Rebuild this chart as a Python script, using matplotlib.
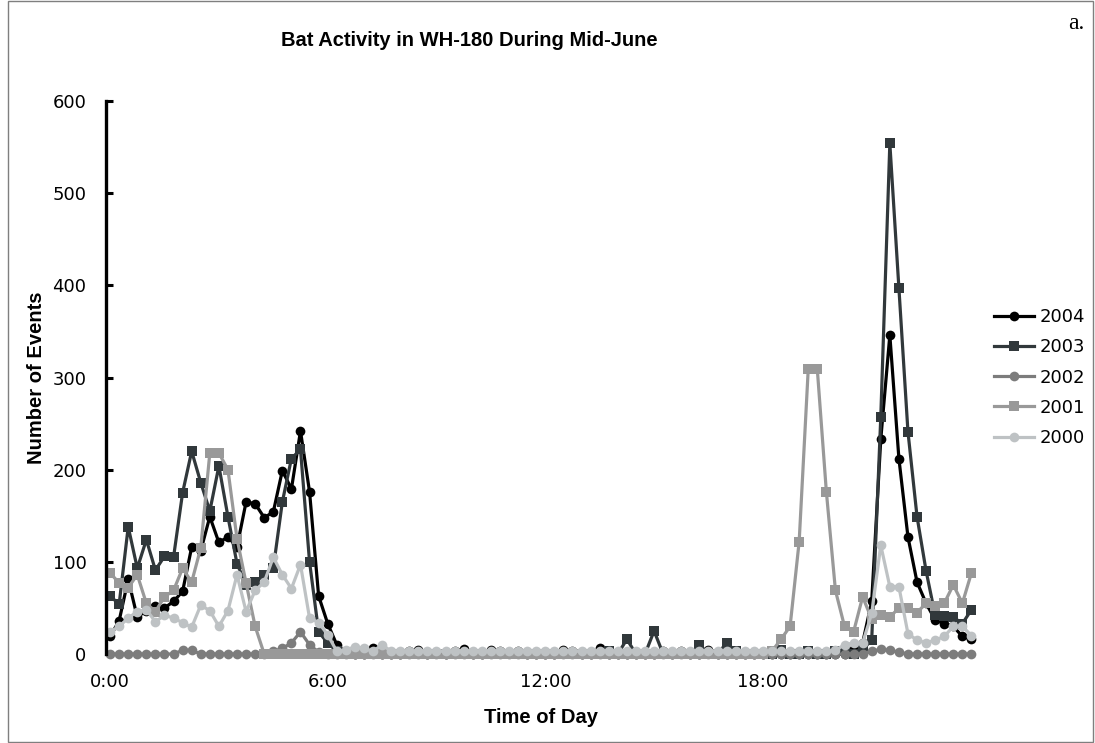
import matplotlib
matplotlib.use("Agg")
import matplotlib.pyplot as plt
from matplotlib.patches import Rectangle

# 15-minute bins, 0:00 .. 23:45
n_bins = 96
x_ticks = [0, 24, 48, 72]
x_tick_labels = ["0:00", "6:00", "12:00", "18:00"]
y_ticks = [0, 100, 200, 300, 400, 500, 600]

years = ["2004", "2003", "2002", "2001", "2000"]

events_2004 = [19, 36, 81, 40, 47, 52, 50, 57, 68, 116, 112, 149, 121, 127, 116, 165,
               163, 148, 154, 199, 179, 242, 176, 63, 33, 10, 2, 0, 0, 7, 0, 0,
               0, 3, 4, 0, 2, 0, 3, 5, 0, 0, 4, 3, 2, 3, 0, 0,
               0, 0, 4, 3, 0, 0, 6, 0, 0, 0, 0, 0, 0, 3, 0, 3,
               0, 0, 4, 0, 0, 0, 0, 0, 0, 0, 0, 0, 0, 0, 0, 0,
               0, 0, 5, 12, 57, 233, 346, 212, 127, 78, 55, 37, 33, 30, 19, 16]

events_2003 = [63, 54, 138, 93, 124, 91, 106, 105, 175, 220, 186, 155, 204, 149, 98, 75,
               78, 86, 93, 165, 212, 222, 100, 24, 12, 3, 0, 0, 0, 0, 0, 0,
               0, 0, 0, 0, 0, 0, 0, 0, 0, 0, 0, 0, 0, 0, 0, 0,
               0, 0, 0, 0, 0, 0, 0, 3, 0, 16, 0, 0, 25, 0, 0, 0,
               0, 10, 0, 0, 12, 3, 0, 0, 0, 0, 4, 0, 0, 3, 0, 0,
               3, 3, 0, 5, 15, 257, 554, 397, 241, 149, 90, 42, 41, 40, 33, 48]

events_2002 = [0, 0, 0, 0, 0, 0, 0, 0, 4, 4, 0, 0, 0, 0, 0, 0,
               0, 0, 3, 6, 12, 24, 10, 2, 0, 0, 0, 0, 0, 0, 0, 0,
               0, 0, 0, 0, 0, 0, 0, 0, 0, 0, 0, 0, 0, 0, 0, 0,
               0, 0, 0, 0, 0, 0, 0, 0, 0, 0, 0, 0, 0, 0, 0, 0,
               0, 0, 0, 0, 0, 0, 0, 0, 0, 0, 0, 0, 0, 0, 0, 0,
               0, 0, 0, 0, 3, 5, 4, 2, 0, 0, 0, 0, 0, 0, 0, 0]

events_2001 = [88, 77, 72, 86, 55, 46, 62, 69, 93, 78, 115, 218, 218, 200, 125, 77,
               30, 0, 0, 0, 0, 0, 0, 0, 0, 0, 0, 0, 0, 0, 0, 0,
               0, 0, 0, 0, 0, 0, 0, 0, 0, 0, 0, 0, 0, 0, 0, 0,
               0, 0, 0, 0, 0, 0, 0, 0, 0, 0, 0, 0, 0, 0, 0, 0,
               0, 0, 0, 0, 0, 0, 0, 0, 0, 3, 16, 30, 122, 309, 309, 176,
               69, 30, 24, 62, 38, 42, 40, 50, 50, 45, 55, 52, 55, 75, 55, 88]

events_2000 = [24, 30, 39, 46, 48, 35, 42, 39, 34, 29, 53, 47, 30, 47, 86, 46,
               69, 78, 105, 86, 71, 97, 39, 34, 21, 3, 4, 8, 6, 3, 10, 3,
               3, 3, 3, 3, 3, 3, 3, 3, 3, 3, 3, 3, 3, 3, 3, 3,
               3, 3, 3, 3, 3, 3, 3, 3, 3, 3, 3, 3, 3, 3, 3, 3,
               3, 3, 3, 3, 3, 3, 3, 3, 3, 3, 3, 3, 3, 3, 3, 3,
               4, 10, 12, 12, 44, 118, 73, 73, 22, 15, 12, 15, 19, 30, 30, 20]

series = [events_2004, events_2003, events_2002, events_2001, events_2000]
colors = ["#000000", "#31383b", "#7c7c7c", "#999999", "#bec2c4"]
markers = ["o", "s", "o", "s", "o"]

plt.rcParams["font.family"] = "DejaVu Sans"

fig = plt.figure(figsize=(10.95, 7.43), dpi=100)
ax = fig.add_axes([0.0968, 0.1198, 0.7945, 0.7442])

x = list(range(n_bins))
for year, vals, col, mk in zip(years, series, colors, markers):
    ax.plot(x, vals, color=col, lw=2.3, marker=mk,
            markersize=7 if mk == "o" else 6.5,
            markeredgewidth=0, label=year, clip_on=False)

ax.set_xlim(-0.45, 95.5)
ax.set_ylim(0, 600)
ax.set_xticks(x_ticks)
ax.set_xticklabels(x_tick_labels)
ax.set_yticks(y_ticks)

for side in ["top", "right", "bottom"]:
    ax.spines[side].set_visible(False)
ax.spines["left"].set_linewidth(2.4)
ax.tick_params(axis="y", direction="in", length=5, width=2.2, labelsize=13, pad=14)
ax.tick_params(axis="x", length=0, labelsize=13, pad=14)

ax.set_xlabel("Time of Day", family="Liberation Sans", fontweight="bold",
              fontsize=14.5, labelpad=12)
ax.set_ylabel("Number of Events", family="Liberation Sans", fontweight="bold",
              fontsize=14.5, labelpad=5)

fig.text(0.429, 0.946, "Bat Activity in WH-180 During Mid-June",
         family="Liberation Sans", fontweight="bold", fontsize=14.5,
         ha="center", va="center")
fig.text(0.983, 0.968, "a.", family="Liberation Serif", fontsize=17,
         ha="center", va="center")

leg = ax.legend(loc="center left", bbox_to_anchor=(1.0, 0.50), frameon=False,
                fontsize=13, handlelength=2.2, handletextpad=0.3,
                labelspacing=0.68, borderaxespad=0.6)

fig.patches.append(Rectangle((0.0075, 0.001), 0.991, 0.997, transform=fig.transFigure,
                             fill=False, edgecolor="#7f7f7f", lw=1.0))

fig.savefig("out.png", dpi=100)
